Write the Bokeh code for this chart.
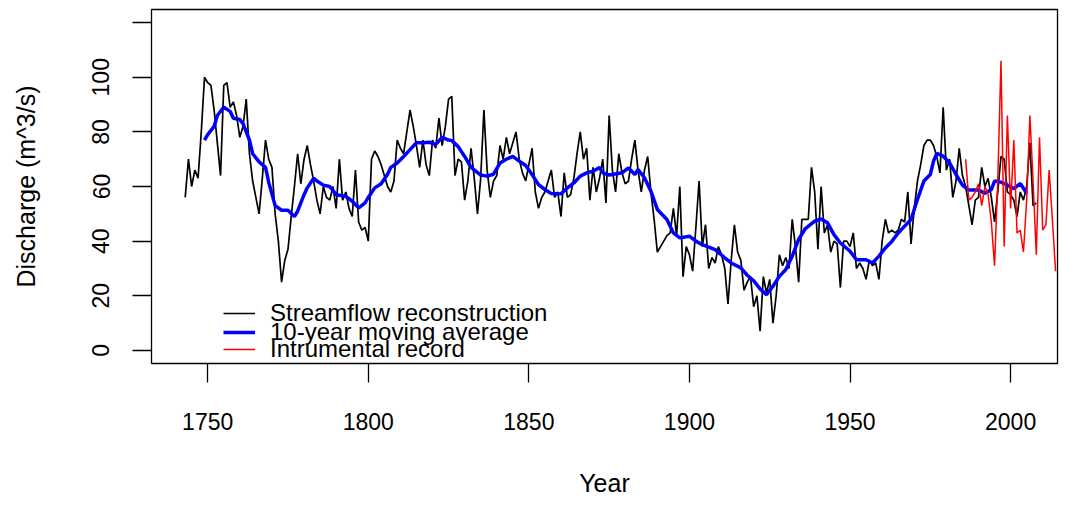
from bokeh.plotting import figure
from bokeh.models import Range1d, FixedTicker, Legend, LegendItem
from bokeh.embed import file_html
from bokeh.resources import INLINE

# Streamflow reconstruction (annual), 1743-2008
flow_start = 1743
flow = [
    56, 70, 60, 66, 63, 80, 100,                      # 1743-1749
    98, 97, 88, 76, 64, 97, 98, 89, 91, 86,           # 1750s
    78, 82, 92, 72, 62, 56, 50, 63, 77, 70,           # 1760s
    67, 50, 40, 25, 33, 37, 49, 60, 72, 61,           # 1770s
    70, 75, 68, 62, 55, 50, 60, 56, 55, 60,           # 1780s
    52, 70, 55, 58, 52, 49, 66, 47, 44, 45,           # 1790s
    40, 70, 73, 71, 68, 64, 60, 58, 62, 77,           # 1800s
    74, 72, 80, 88, 82, 75, 67, 77, 68, 64,           # 1810s
    77, 74, 85, 75, 82, 92, 93, 64, 70, 69,           # 1820s
    55, 62, 74, 63, 50, 63, 88, 66, 56, 62,           # 1830s
    64, 75, 70, 78, 72, 76, 80, 70, 65, 62,           # 1840s
    68, 74, 58, 52, 56, 58, 62, 66, 56, 58,           # 1850s
    49, 65, 56, 57, 63, 72, 80, 70, 74, 55,           # 1860s
    67, 58, 63, 70, 54, 86, 66, 58, 72, 65,           # 1870s
    61, 62, 70, 77, 66, 58, 66, 71, 58, 48,           # 1880s
    36, 38, 40, 42, 43, 52, 42, 60, 27, 38,           # 1890s
    35, 29, 45, 62, 38, 46, 30, 34, 32, 38,           # 1900s
    35, 30, 17, 33, 46, 36, 33, 22, 25, 27,           # 1910s
    16, 20, 7, 27, 21, 26, 10, 20, 35, 31,            # 1920s
    34, 30, 48, 38, 25, 48, 48, 48, 67, 58,           # 1930s
    37, 60, 43, 46, 36, 40, 39, 23, 40, 40,           # 1940s
    38, 43, 30, 32, 30, 26, 33, 31, 32, 26,           # 1950s
    40, 48, 43, 44, 43, 44, 48, 47, 58, 39,           # 1960s
    52, 62, 68, 75, 77, 77, 75, 71, 65, 89,           # 1970s
    66, 70, 56, 62, 74, 64, 60, 53, 46, 55,           # 1980s
    56, 67, 60, 63, 56, 47, 58, 71, 70, 58,           # 1990s
    57, 55, 49, 58, 55, 60, 76, 53, 54,               # 2000-2008
]
flow_years = list(range(flow_start, flow_start + len(flow)))

# 10-year moving average
ma_years = [1749, 1750, 1752, 1753, 1755, 1757, 1758, 1760, 1761, 1763, 1764,
            1766, 1768, 1769, 1771, 1773, 1775, 1777, 1778, 1780, 1781, 1783,
            1784, 1786, 1788, 1790, 1793, 1795, 1797, 1799, 1800, 1802, 1804,
            1806, 1807, 1809, 1811, 1813, 1815, 1817, 1819, 1821, 1823, 1825,
            1826, 1828, 1830, 1832, 1835, 1837, 1839, 1841, 1843, 1845, 1847,
            1849, 1851, 1853, 1855, 1857, 1860, 1862, 1864, 1866, 1868, 1870,
            1872, 1873, 1875, 1876, 1879, 1881, 1883, 1884, 1886, 1888, 1890,
            1893, 1895, 1897, 1900, 1902, 1904, 1908, 1911, 1913, 1916, 1918,
            1920, 1922, 1924, 1926, 1928, 1930, 1932, 1934, 1936, 1939, 1941,
            1943, 1945, 1947, 1950, 1952, 1955, 1957, 1959, 1961, 1963, 1965,
            1967, 1969, 1971, 1973, 1975, 1976, 1977, 1979, 1981, 1983, 1985,
            1987, 1990, 1992, 1994, 1995, 1997, 1999, 2001, 2003, 2005]
ma_values = [77, 79, 82, 86, 89, 87.5, 85, 84.5, 83, 77, 72,
             69, 67, 61.5, 53, 51.3, 51.3, 49, 51, 57, 59.5, 63,
             62, 60.5, 60, 57, 56.4, 54.6, 52.2, 54, 56, 59.5, 61,
             64.5, 67, 68.6, 71, 73.5, 76, 76, 76.2, 75.4, 78, 77,
             76.8, 74.6, 71, 67, 64.2, 63.8, 64.5, 68.6, 70, 71, 69.3,
             67.7, 64.4, 60.7, 58.9, 57.4, 57.3, 59.5, 61.3, 63.8, 65, 65.6,
             67, 65, 64.2, 64.4, 65, 66.8, 64.4, 66.2, 63.2, 58.3, 51.6,
             47.9, 43, 41.2, 41.8, 40, 38.7, 36.9, 33.9, 32, 30.2, 27.5,
             25.5, 22.5, 20.4, 23.5, 27.1, 29.6, 34.5, 40.6, 44.5, 47.3, 48.1,
             46.7, 42.4, 39.3, 36.3, 33.2, 33.2, 32, 34.5, 37.5, 39.9, 43,
             45.5, 47.9, 55.3, 62, 64.4, 69.3, 72.1, 71.1, 68.7, 64.4, 60.5,
             58.7, 58.7, 57.5, 58.9, 62, 61.6, 60.5, 59.2, 61.1, 57.5]

# Instrumental record, 1986-2014
inst_start = 1986
inst = [70, 55, 56, 58, 61, 53, 60, 57, 47, 31,
        62, 106, 38, 86, 52, 77, 43, 44, 36, 55,
        86, 62, 35, 78, 44, 46, 66, 48, 29]
inst_years = list(range(inst_start, inst_start + len(inst)))

x_ticks = [1750, 1800, 1850, 1900, 1950, 2000]
y_ticks = [0, 20, 40, 60, 80, 100, 120]
legend_labels = ["Streamflow reconstruction", "10-year moving average",
                 "Intrumental record"]

FONT = "Liberation Sans"

p = figure(width=1059, height=502, output_backend="svg", toolbar_location=None,
           x_range=Range1d(1732.5, 2014.6), y_range=Range1d(-4.8, 124.8),
           min_border_left=151, min_border_right=2, min_border_top=9,
           min_border_bottom=139)
p.xgrid.visible = False
p.ygrid.visible = False
p.outline_line_color = "black"
p.outline_line_width = 1.3
p.background_fill_color = "white"
p.border_fill_color = "white"

r_flow = p.line(flow_years, flow, line_color="black", line_width=1.7)
r_ma = p.line(ma_years, ma_values, line_color="#0000FF", line_width=3.5)
r_inst = p.line(inst_years, inst, line_color="#FF0000", line_width=1.5)

for ax in (p.xaxis[0], p.yaxis[0]):
    ax.axis_line_color = None
    ax.major_tick_out = 19
    ax.major_tick_in = 0
    ax.minor_tick_out = 0
    ax.minor_tick_in = 0
    ax.major_tick_line_color = "black"
    ax.major_tick_line_width = 1.3
    ax.major_label_text_font = FONT
    ax.major_label_text_font_size = "23px"
    ax.major_label_text_color = "black"
    ax.major_label_text_line_height = 1.0
    ax.axis_label_text_font = FONT
    ax.axis_label_text_font_size = "25px"
    ax.axis_label_text_font_style = "normal"
    ax.axis_label_text_color = "black"
    ax.axis_label_text_line_height = 1.0

p.xaxis[0].ticker = FixedTicker(ticks=x_ticks)
p.xaxis[0].axis_label = "Year"
p.xaxis[0].major_label_standoff = 30
p.xaxis[0].axis_label_standoff = 36

p.yaxis[0].ticker = FixedTicker(ticks=y_ticks)
p.yaxis[0].major_label_overrides = {120: ""}
p.yaxis[0].major_label_orientation = "vertical"
p.yaxis[0].axis_label = "Discharge (m^3/s)"
p.yaxis[0].major_label_standoff = 23
p.yaxis[0].axis_label_standoff = 50

# one single-row legend per entry so the rows can sit as tightly as in R
rows = [(legend_labels[0], r_flow, 36), (legend_labels[1], r_ma, 17),
        (legend_labels[2], r_inst, 0)]
for lab, rend, yoff in rows:
    lg = Legend(items=[LegendItem(label=lab, renderers=[rend])],
                location=(72, yoff), padding=0, margin=0, spacing=0,
                glyph_width=32, glyph_height=28, label_height=28,
                label_standoff=15, border_line_color=None,
                background_fill_alpha=0, label_text_font=FONT,
                label_text_font_size="24px", label_text_color="black")
    p.add_layout(lg)

open("out.html", "w").write(file_html(p, INLINE))
